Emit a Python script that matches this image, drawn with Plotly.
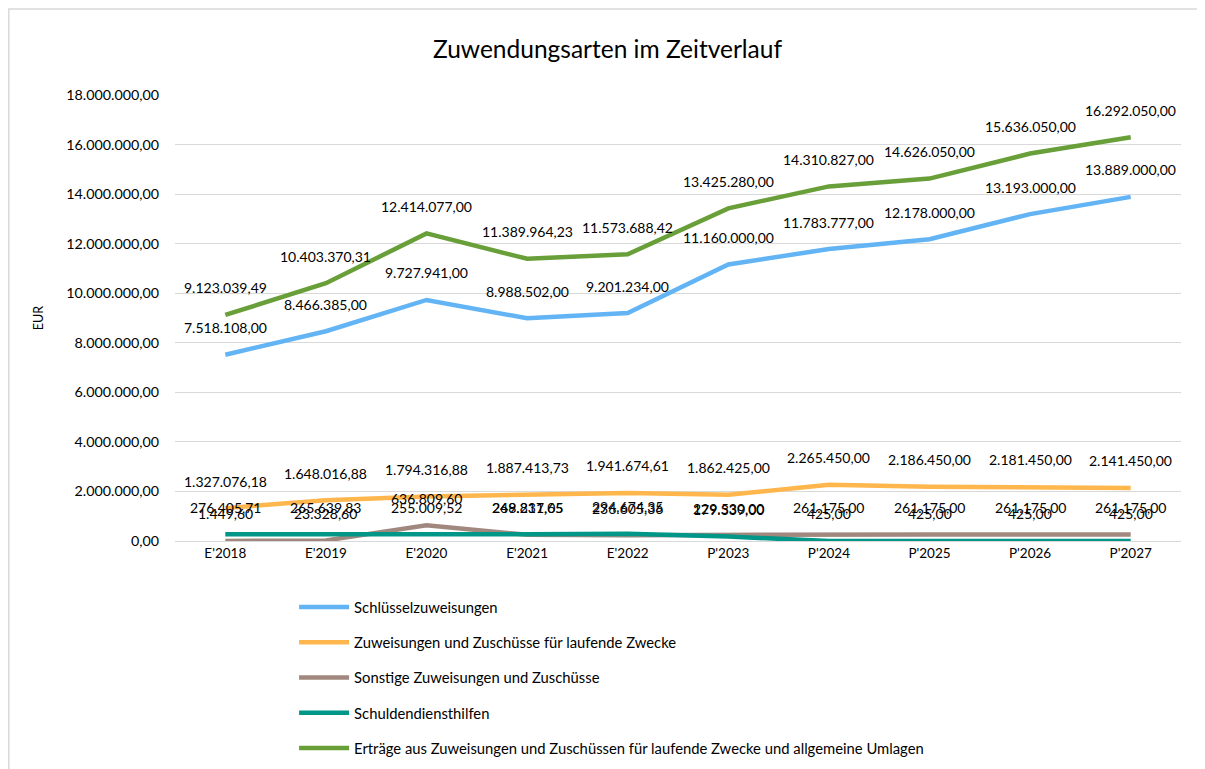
import plotly.graph_objects as go

categories = ["E'2018", "E'2019", "E'2020", "E'2021", "E'2022", "P'2023", "P'2024", "P'2025", "P'2026", "P'2027"]

schluessel = [7518108.00, 8466385.00, 9727941.00, 8988502.00, 9201234.00, 11160000.00, 11783777.00, 12178000.00, 13193000.00, 13889000.00]
laufende = [1327076.18, 1648016.88, 1794316.88, 1887413.73, 1941674.61, 1862425.00, 2265450.00, 2186450.00, 2181450.00, 2141450.00]
sonstige = [1449.60, 23328.60, 636809.60, 249237.05, 236605.36, 229530.00, 261175.00, 261175.00, 261175.00, 261175.00]
schuldendienst = [276405.71, 265639.83, 255009.52, 268811.65, 294674.35, 179339.00, 425.00, 425.00, 425.00, 425.00]
ertraege = [9123039.49, 10403370.31, 12414077.00, 11389964.23, 11573688.42, 13425280.00, 14310827.00, 14626050.00, 15636050.00, 16292050.00]

series = [
    ("Schlüsselzuweisungen", schluessel, "#63B4F5"),
    ("Zuweisungen und Zuschüsse für laufende Zwecke", laufende, "#FFB74D"),
    ("Sonstige Zuweisungen und Zuschüsse", sonstige, "#A1887F"),
    ("Schuldendiensthilfen", schuldendienst, "#009688"),
    ("Erträge aus Zuweisungen und Zuschüssen für laufende Zwecke und allgemeine Umlagen", ertraege, "#689F38"),
]

FONT = "Lato"

def de(v):
    s = f"{v:,.2f}"
    return s.replace(",", "X").replace(".", ",").replace("X", ".")

fig = go.Figure()
annotations = []
for i, (name, vals, col) in enumerate(series):
    fig.add_trace(go.Scatter(
        x=categories, y=vals, name=name, mode="lines",
        line=dict(color=col, width=4.5), legendgroup=f"g{i}",
    ))
    for c, v in zip(categories, vals):
        annotations.append(dict(
            x=c, y=v, xref="x", yref="y", text=de(v), showarrow=False,
            yshift=27, font=dict(family=FONT, size=14, color="#000000"),
        ))

annotations.append(dict(
    text="Zuwendungsarten im Zeitverlauf", xref="paper", yref="paper",
    x=0.43, y=1.0, yshift=47, showarrow=False, xanchor="center", yanchor="middle",
    font=dict(family=FONT, size=24.5, color="#000000"),
))
annotations.append(dict(
    text="EUR", xref="paper", yref="paper", x=-0.136, y=0.5, textangle=-90,
    showarrow=False, xanchor="center", yanchor="middle",
    font=dict(family=FONT, size=12.5, color="#000000"),
))

fig.update_layout(
    width=1197, height=761,
    margin=dict(l=167, r=24, t=87, b=228, autoexpand=False),
    paper_bgcolor="white", plot_bgcolor="white",
    separators=",.",
    font=dict(family=FONT, size=13, color="#000000"),
    showlegend=True,
    legend=dict(
        orientation="v", x=0.239, xref="container", y=0.234, yref="container",
        xanchor="left", yanchor="top",
        font=dict(family=FONT, size=14.8, color="#000000"),
        tracegroupgap=13, itemwidth=50, bgcolor="rgba(0,0,0,0)",
    ),
    annotations=annotations,
    shapes=[dict(type="rect", xref="paper", yref="paper",
                 x0=-0.1652, x1=1.0189, y0=-0.6, y1=1.1928,
                 line=dict(color="#D9D9D9", width=1.5), fillcolor="rgba(0,0,0,0)", layer="below")],
)

fig.update_xaxes(
    type="category", range=[-0.5, len(categories) - 0.5],
    showgrid=False, showline=True, linecolor="#D9D9D9", linewidth=1,
    ticks="", tickfont=dict(family=FONT, size=13.5, color="#000000"), zeroline=False,
    automargin=False,
)
fig.update_yaxes(
    range=[0, 18000000], dtick=2000000, tickformat=",.2f",
    showgrid=True, gridcolor="#D9D9D9", gridwidth=1, zeroline=False, showline=False,
    ticks="outside", ticklen=12, tickcolor="rgba(0,0,0,0)",
    tickfont=dict(family=FONT, size=14.3, color="#000000"),
    automargin=False,
)

fig.write_html("out.html")
